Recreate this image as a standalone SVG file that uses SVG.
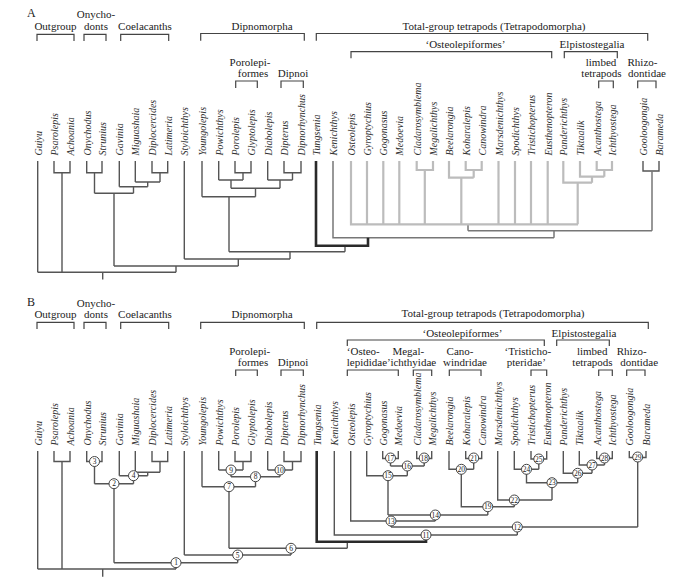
<svg xmlns="http://www.w3.org/2000/svg" width="690" height="583" viewBox="0 0 690 583">
<style>
.hd{font-family:"Liberation Serif","Times New Roman",serif;font-size:11px;fill:#222;text-anchor:middle}
.pl{font-family:"Liberation Serif","Times New Roman",serif;font-size:12px;fill:#222}
.tx{font-family:"Liberation Serif","Times New Roman",serif;font-size:10px;font-style:italic;fill:#333}
.br{fill:none;stroke:#444;stroke-width:1.2}
.ln{fill:none;stroke:#555;stroke-width:1.4}
.md{fill:none;stroke:#777;stroke-width:1.5}
.lt{fill:none;stroke:#bcbcbc;stroke-width:2.2}
.tk{fill:none;stroke:#2a2a2a;stroke-width:2.6}
.nd circle{fill:#fff;stroke:#444;stroke-width:1}
.nd text{font-family:"Liberation Serif","Times New Roman",serif;font-size:7.5px;fill:#222;text-anchor:middle}
</style>
<rect width="690" height="583" fill="#fff"/>

<!-- ================= PANEL A ================= -->
<g id="A-headers">
<text class="pl" x="27" y="17">A</text>
<text class="hd" x="96" y="18">Onycho-</text>
<text class="hd" x="96" y="29.5">donts</text>
<text class="hd" x="55.5" y="29.5">Outgroup</text>
<text class="hd" x="145" y="29.5">Coelacanths</text>
<text class="hd" x="262" y="29.5">Dipnomorpha</text>
<text class="hd" x="494" y="29.5">Total-group tetrapods (Tetrapodomorpha)</text>
<text class="hd" x="465.5" y="48">‘Osteolepiformes’</text>
<text class="hd" x="592" y="48">Elpistostegalia</text>
<text class="hd" x="601" y="65.5">limbed</text>
<text class="hd" x="601.5" y="76.5">tetrapods</text>
<text class="hd" x="642.5" y="65.5">Rhizo-</text>
<text class="hd" x="647" y="76.5">dontidae</text>
<text class="hd" x="250" y="65.5">Porolepi-</text>
<text class="hd" x="253" y="76.5">formes</text>
<text class="hd" x="293" y="76.5">Dipnoi</text>
<path class="br" d="M37 41V34.3H74V41M84 41V34.3H106V41M120.7 41V34.3H168.7V41M200.7 40.7V33.5H304.3V40.7M316.3 40.7V33.5H647.7V40.7M351 58.3V51.7H551.7V58.3M564.3 58.3V51.7H617.3V58.3M598.7 88.3V81H613.3V88.3M637.7 88.3V81H656V88.3M235.7 88V81H257.3V88M281 88V81H303.3V88"/>
</g>

<g id="A-connectors">
<path class="ln" d="M37.7 161V272.3M54 161V172.7H70V161M62 172.7V272.3M86.7 161V172.7H102V161M94.5 172.7V193.3M119.3 161V186.7M135.3 161V182M152 161V172.7H167.7V161M160 172.7V182M135.3 182H160M147.7 182V186.7M119.3 186.7H147.7M133.5 186.7V193.3M94.5 193.3H133.5M114 193.3V266M184.3 161V259M202 161V196.7M218.7 161V180M235 161V172.7H251V161M243 172.7V180M218.7 180H243M231 180V188.3M267.7 161V180M284 161V172.7H301V161M292.5 172.7V180M267.7 180H292.5M280 180V188.3M231 188.3H280M255.5 188.3V196.7M202 196.7H255.5M229 196.7V251.7M229 251.7H345M345 245.7V251.7M290 251.7V259M184.3 259H290M238.3 259V266M114 266H238.3M176 266V272.3M37.7 272.3H176M102.7 272.3V279.5M643 161V171H659V161"/>
<path class="md" d="M333 161V237.7H554M554 230.7V237.7M468 230.7H652M468 224.3V230.7M652 171V230.7"/>
<path class="lt" d="M351 161V224.3H578M367 161V224.3M383.3 161V224.3M399.3 161V224.3M416.7 161V170H433V161M424.8 170V224.3M449 161V177.7H473.7M465.7 161V170H481.7V161M473.7 170V177.7M461.3 177.7V224.3M498.5 161V224.3M515 161V224.3M531 161V224.3M547.7 161V224.3M563.3 161V182.7H592M580 161V176.7H604.3M596.7 161V170H612V161M604.3 170V176.7M592 176.7V182.7M577.7 182.7V224.3"/>
<path class="tk" d="M316 161V245.7H368V237.7"/>
</g>

<g id="A-taxa">
<g id="A-Guiyu"><text class="tx" transform="translate(41.7 155.5) rotate(-90)">Guiyu</text></g>
<g id="A-Psarolepis"><text class="tx" transform="translate(58 155.5) rotate(-90)">Psarolepis</text></g>
<g id="A-Achoania"><text class="tx" transform="translate(74 155.5) rotate(-90)">Achoania</text></g>
<g id="A-Onychodus"><text class="tx" transform="translate(90.7 155.5) rotate(-90)">Onychodus</text></g>
<g id="A-Strunius"><text class="tx" transform="translate(106 155.5) rotate(-90)">Strunius</text></g>
<g id="A-Gavinia"><text class="tx" transform="translate(123.3 155.5) rotate(-90)">Gavinia</text></g>
<g id="A-Miguashaia"><text class="tx" transform="translate(139.3 155.5) rotate(-90)">Miguashaia</text></g>
<g id="A-Diplocercides"><text class="tx" transform="translate(156 155.5) rotate(-90)">Diplocercides</text></g>
<g id="A-Latimeria"><text class="tx" transform="translate(171.7 155.5) rotate(-90)">Latimeria</text></g>
<g id="A-Styloichthys"><text class="tx" transform="translate(188.3 155.5) rotate(-90)">Styloichthys</text></g>
<g id="A-Youngolepis"><text class="tx" transform="translate(206 155.5) rotate(-90)">Youngolepis</text></g>
<g id="A-Powichthys"><text class="tx" transform="translate(222.7 155.5) rotate(-90)">Powichthys</text></g>
<g id="A-Porolepis"><text class="tx" transform="translate(239 155.5) rotate(-90)">Porolepis</text></g>
<g id="A-Glyptolepis"><text class="tx" transform="translate(255 155.5) rotate(-90)">Glyptolepis</text></g>
<g id="A-Diabolepis"><text class="tx" transform="translate(271.7 155.5) rotate(-90)">Diabolepis</text></g>
<g id="A-Dipterus"><text class="tx" transform="translate(288 155.5) rotate(-90)">Dipterus</text></g>
<g id="A-Dipnorhynchus"><text class="tx" transform="translate(305 155.5) rotate(-90)">Dipnorhynchus</text></g>
<g id="A-Tungsenia"><text class="tx" transform="translate(320 155.5) rotate(-90)">Tungsenia</text></g>
<g id="A-Kenichthys"><text class="tx" transform="translate(337 155.5) rotate(-90)">Kenichthys</text></g>
<g id="A-Osteolepis"><text class="tx" transform="translate(355 155.5) rotate(-90)">Osteolepis</text></g>
<g id="A-Gyroptychius"><text class="tx" transform="translate(371 155.5) rotate(-90)">Gyroptychius</text></g>
<g id="A-Gogonasus"><text class="tx" transform="translate(387.3 155.5) rotate(-90)">Gogonasus</text></g>
<g id="A-Medoevia"><text class="tx" transform="translate(403.3 155.5) rotate(-90)">Medoevia</text></g>
<g id="A-Cladarosymblema"><text class="tx" transform="translate(420.7 155.5) rotate(-90)">Cladarosymblema</text></g>
<g id="A-Megalichthys"><text class="tx" transform="translate(437 155.5) rotate(-90)">Megalichthys</text></g>
<g id="A-Beelarongia"><text class="tx" transform="translate(453 155.5) rotate(-90)">Beelarongia</text></g>
<g id="A-Koharalepis"><text class="tx" transform="translate(469.7 155.5) rotate(-90)">Koharalepis</text></g>
<g id="A-Canowindra"><text class="tx" transform="translate(485.7 155.5) rotate(-90)">Canowindra</text></g>
<g id="A-Marsdenichthys"><text class="tx" transform="translate(502.5 155.5) rotate(-90)">Marsdenichthys</text></g>
<g id="A-Spodichthys"><text class="tx" transform="translate(519 155.5) rotate(-90)">Spodichthys</text></g>
<g id="A-Tristichopterus"><text class="tx" transform="translate(535 155.5) rotate(-90)">Tristichopterus</text></g>
<g id="A-Eusthenopteron"><text class="tx" transform="translate(551.7 155.5) rotate(-90)">Eusthenopteron</text></g>
<g id="A-Panderichthys"><text class="tx" transform="translate(567.3 155.5) rotate(-90)">Panderichthys</text></g>
<g id="A-Tiktaalik"><text class="tx" transform="translate(584 155.5) rotate(-90)">Tiktaalik</text></g>
<g id="A-Acanthostega"><text class="tx" transform="translate(600.7 155.5) rotate(-90)">Acanthostega</text></g>
<g id="A-Ichthyostega"><text class="tx" transform="translate(616 155.5) rotate(-90)">Ichthyostega</text></g>
<g id="A-Gooloogongia"><text class="tx" transform="translate(647 155.5) rotate(-90)">Gooloogongia</text></g>
<g id="A-Barameda"><text class="tx" transform="translate(663 155.5) rotate(-90)">Barameda</text></g>
</g>

<!-- ================= PANEL B ================= -->
<g id="B-headers">
<text class="pl" x="27" y="305.5">B</text>
<text class="hd" x="96" y="306.5">Onycho-</text>
<text class="hd" x="96" y="318">donts</text>
<text class="hd" x="55.5" y="318">Outgroup</text>
<text class="hd" x="145" y="318">Coelacanths</text>
<text class="hd" x="262" y="317.5">Dipnomorpha</text>
<text class="hd" x="493" y="317">Total-group tetrapods (Tetrapodomorpha)</text>
<text class="hd" x="462.5" y="336.5">‘Osteolepiformes’</text>
<text class="hd" x="584" y="336.5">Elpistostegalia</text>
<text class="hd" x="363.3" y="355">‘Osteo-</text>
<text class="hd" x="368.8" y="365.5">lepididae’</text>
<text class="hd" x="408.3" y="355">Megal-</text>
<text class="hd" x="413.3" y="365.5">ichthyidae</text>
<text class="hd" x="460" y="355">Cano-</text>
<text class="hd" x="465" y="365.5">windridae</text>
<text class="hd" x="527.8" y="355">‘Tristicho-</text>
<text class="hd" x="526.3" y="365.5">pteridae’</text>
<text class="hd" x="592.2" y="355">limbed</text>
<text class="hd" x="592.5" y="365.5">tetrapods</text>
<text class="hd" x="631.7" y="355">Rhizo-</text>
<text class="hd" x="639.2" y="365.5">dontidae</text>
<text class="hd" x="249.7" y="355">Porolepi-</text>
<text class="hd" x="253" y="365.5">formes</text>
<text class="hd" x="293" y="365.5">Dipnoi</text>
<path class="br" d="M37 329V322.3H74V329M84 329V322.3H106V329M120.7 329V322.3H168.7V329M200.7 329V322.3H304.3V329M316.7 329V322.3H648.3V329M347.3 346V340H544.3V346M556.7 346V340H609.3V346M347.3 376V370H398.3V376M413.3 376V370H431.7V376M449.3 376V370H481V376M531 376V370H546.7V376M598.7 376V370H612.3V376M626.7 376V370H645V376M235.7 376V370H257.3V376M281 376V370H303.3V376"/>
</g>

<g id="B-connectors">
<path class="ln" d="M37.7 451V569M54 451V461.5H70V451M62 461.5V569M86.7 451V461.5H102V451M94.5 461.5V483.7M119.3 451V475.7M135.3 451V472.3M152 451V461.5H167.7V451M160 461.5V472.3M135.3 472.3H160M147.7 472.3V475.7M119.3 475.7H147.7M133.5 475.7V483.7M94.5 483.7H133.5M114 483.7V562.7M184.3 451V555M202 451V486.7M218.7 451V470M235 451V461.5H251V451M243 461.5V470M218.7 470H243M231 470V476.7M267.7 451V470M284 451V461.5H301V451M292.5 461.5V470M267.7 470H292.5M280 470V476.7M231 476.7H280M255.5 476.7V486.7M202 486.7H255.5M229 486.7V548.3M229 548.3H347.3M347.3 541.7V548.3M291 548.3V555M184.3 555H291M237.7 555V562.7M114 562.7H237.7M176 562.7V569M37.7 569H176M102.7 569V576.7"/>
<path class="ln" d="M334.3 451V535H517.3M517.3 527V535M391 527H637.7M391 521V527M350.7 451V521H435.3M435.3 515V521M388 515H487.8M388 475.7V515M366.7 451V475.7H407.3M382.7 451V458.5H398.3V451M390.5 458.5V466M416.7 451V458.5H431.7V451M424.2 458.5V466M390.5 466H424.2M407.3 466V475.7M449 451V469.3H473.7M465.7 451V458.5H481.7V451M473.7 458.5V469.3M461.3 469.3V506.7H514.3M487.8 506.7V515M514.3 500V506.7M497.7 451V500H552M552 482.7V500M514.3 451V469.3H538.8M531 451V459H546.7V451M538.8 459V469.3M526.5 469.3V482.7H577.7M563.3 451V473.3H592M579.3 451V465H604.5M596.7 451V458.5H612.3V451M604.5 458.5V465M592 465V473.3M577.7 473.3V482.7M629.3 451V457.5H646V451M637.7 457.5V527"/>
<path class="tk" d="M316.7 451V541.7H426V535"/>
</g>

<g id="B-nodes">
<g id="n1" class="nd"><circle cx="176" cy="562.7" r="5"/><text x="176" y="565.3">1</text></g>
<g id="n2" class="nd"><circle cx="114" cy="483.7" r="5"/><text x="114" y="486.3">2</text></g>
<g id="n3" class="nd"><circle cx="94.5" cy="461.5" r="5"/><text x="94.5" y="464.1">3</text></g>
<g id="n4" class="nd"><circle cx="133.5" cy="475.7" r="5"/><text x="133.5" y="478.3">4</text></g>
<g id="n5" class="nd"><circle cx="237.7" cy="555" r="5"/><text x="237.7" y="557.6">5</text></g>
<g id="n6" class="nd"><circle cx="291" cy="548.3" r="5"/><text x="291" y="550.9">6</text></g>
<g id="n7" class="nd"><circle cx="229" cy="486.7" r="5"/><text x="229" y="489.3">7</text></g>
<g id="n8" class="nd"><circle cx="255.5" cy="476.7" r="5"/><text x="255.5" y="479.3">8</text></g>
<g id="n9" class="nd"><circle cx="231" cy="470" r="5"/><text x="231" y="472.6">9</text></g>
<g id="n10" class="nd"><circle cx="280" cy="470" r="5"/><text x="280" y="472.6">10</text></g>
<g id="n11" class="nd"><circle cx="426" cy="535" r="5"/><text x="426" y="537.6">11</text></g>
<g id="n12" class="nd"><circle cx="517.3" cy="527" r="5"/><text x="517.3" y="529.6">12</text></g>
<g id="n13" class="nd"><circle cx="391" cy="521" r="5"/><text x="391" y="523.6">13</text></g>
<g id="n14" class="nd"><circle cx="435.3" cy="515" r="5"/><text x="435.3" y="517.6">14</text></g>
<g id="n15" class="nd"><circle cx="388" cy="475.7" r="5"/><text x="388" y="478.3">15</text></g>
<g id="n16" class="nd"><circle cx="407.3" cy="466" r="5"/><text x="407.3" y="468.6">16</text></g>
<g id="n17" class="nd"><circle cx="390.5" cy="458" r="5"/><text x="390.5" y="460.6">17</text></g>
<g id="n18" class="nd"><circle cx="424.2" cy="458" r="5"/><text x="424.2" y="460.6">18</text></g>
<g id="n19" class="nd"><circle cx="487.8" cy="506.7" r="5"/><text x="487.8" y="509.3">19</text></g>
<g id="n20" class="nd"><circle cx="461.3" cy="469.3" r="5"/><text x="461.3" y="471.9">20</text></g>
<g id="n21" class="nd"><circle cx="473.7" cy="458" r="5"/><text x="473.7" y="460.6">21</text></g>
<g id="n22" class="nd"><circle cx="514.3" cy="500" r="5"/><text x="514.3" y="502.6">22</text></g>
<g id="n23" class="nd"><circle cx="552" cy="482.7" r="5"/><text x="552" y="485.3">23</text></g>
<g id="n24" class="nd"><circle cx="526.5" cy="469.3" r="5"/><text x="526.5" y="471.9">24</text></g>
<g id="n25" class="nd"><circle cx="538.8" cy="459" r="5"/><text x="538.8" y="461.6">25</text></g>
<g id="n26" class="nd"><circle cx="577.7" cy="473.3" r="5"/><text x="577.7" y="475.9">26</text></g>
<g id="n27" class="nd"><circle cx="592" cy="465" r="5"/><text x="592" y="467.6">27</text></g>
<g id="n28" class="nd"><circle cx="604.5" cy="458" r="5"/><text x="604.5" y="460.6">28</text></g>
<g id="n29" class="nd"><circle cx="637.7" cy="457" r="5"/><text x="637.7" y="459.6">29</text></g>
</g>

<g id="B-taxa">
<g id="B-Guiyu"><text class="tx" transform="translate(41.7 445.5) rotate(-90)">Guiyu</text></g>
<g id="B-Psarolepis"><text class="tx" transform="translate(58 445.5) rotate(-90)">Psarolepis</text></g>
<g id="B-Achoania"><text class="tx" transform="translate(74 445.5) rotate(-90)">Achoania</text></g>
<g id="B-Onychodus"><text class="tx" transform="translate(90.7 445.5) rotate(-90)">Onychodus</text></g>
<g id="B-Strunius"><text class="tx" transform="translate(106 445.5) rotate(-90)">Strunius</text></g>
<g id="B-Gavinia"><text class="tx" transform="translate(123.3 445.5) rotate(-90)">Gavinia</text></g>
<g id="B-Miguashaia"><text class="tx" transform="translate(139.3 445.5) rotate(-90)">Miguashaia</text></g>
<g id="B-Diplocercides"><text class="tx" transform="translate(156 445.5) rotate(-90)">Diplocercides</text></g>
<g id="B-Latimeria"><text class="tx" transform="translate(171.7 445.5) rotate(-90)">Latimeria</text></g>
<g id="B-Styloichthys"><text class="tx" transform="translate(188.3 445.5) rotate(-90)">Styloichthys</text></g>
<g id="B-Youngolepis"><text class="tx" transform="translate(206 445.5) rotate(-90)">Youngolepis</text></g>
<g id="B-Powichthys"><text class="tx" transform="translate(222.7 445.5) rotate(-90)">Powichthys</text></g>
<g id="B-Porolepis"><text class="tx" transform="translate(239 445.5) rotate(-90)">Porolepis</text></g>
<g id="B-Glyptolepis"><text class="tx" transform="translate(255 445.5) rotate(-90)">Glyptolepis</text></g>
<g id="B-Diabolepis"><text class="tx" transform="translate(271.7 445.5) rotate(-90)">Diabolepis</text></g>
<g id="B-Dipterus"><text class="tx" transform="translate(288 445.5) rotate(-90)">Dipterus</text></g>
<g id="B-Dipnorhynchus"><text class="tx" transform="translate(305 445.5) rotate(-90)">Dipnorhynchus</text></g>
<g id="B-Tungsenia"><text class="tx" transform="translate(320.7 445.5) rotate(-90)">Tungsenia</text></g>
<g id="B-Kenichthys"><text class="tx" transform="translate(338.3 445.5) rotate(-90)">Kenichthys</text></g>
<g id="B-Osteolepis"><text class="tx" transform="translate(354.7 445.5) rotate(-90)">Osteolepis</text></g>
<g id="B-Gyroptychius"><text class="tx" transform="translate(370.7 445.5) rotate(-90)">Gyroptychius</text></g>
<g id="B-Gogonasus"><text class="tx" transform="translate(386.7 445.5) rotate(-90)">Gogonasus</text></g>
<g id="B-Medoevia"><text class="tx" transform="translate(402.3 445.5) rotate(-90)">Medoevia</text></g>
<g id="B-Cladarosymblema"><text class="tx" transform="translate(420.7 445.5) rotate(-90)">Cladarosymblema</text></g>
<g id="B-Megalichthys"><text class="tx" transform="translate(435.7 445.5) rotate(-90)">Megalichthys</text></g>
<g id="B-Beelarongia"><text class="tx" transform="translate(453 445.5) rotate(-90)">Beelarongia</text></g>
<g id="B-Koharalepis"><text class="tx" transform="translate(469.7 445.5) rotate(-90)">Koharalepis</text></g>
<g id="B-Canowindra"><text class="tx" transform="translate(485.7 445.5) rotate(-90)">Canowindra</text></g>
<g id="B-Marsdenichthys"><text class="tx" transform="translate(501.7 445.5) rotate(-90)">Marsdenichthys</text></g>
<g id="B-Spodichthys"><text class="tx" transform="translate(518.3 445.5) rotate(-90)">Spodichthys</text></g>
<g id="B-Tristichopterus"><text class="tx" transform="translate(535 445.5) rotate(-90)">Tristichopterus</text></g>
<g id="B-Eusthenopteron"><text class="tx" transform="translate(550.7 445.5) rotate(-90)">Eusthenopteron</text></g>
<g id="B-Panderichthys"><text class="tx" transform="translate(567.3 445.5) rotate(-90)">Panderichthys</text></g>
<g id="B-Tiktaalik"><text class="tx" transform="translate(583.3 445.5) rotate(-90)">Tiktaalik</text></g>
<g id="B-Acanthostega"><text class="tx" transform="translate(600.7 445.5) rotate(-90)">Acanthostega</text></g>
<g id="B-Ichthyostega"><text class="tx" transform="translate(616.3 445.5) rotate(-90)">Ichthyostega</text></g>
<g id="B-Gooloogongia"><text class="tx" transform="translate(633.3 445.5) rotate(-90)">Gooloogongia</text></g>
<g id="B-Barameda"><text class="tx" transform="translate(650 445.5) rotate(-90)">Barameda</text></g>
</g>
</svg>
